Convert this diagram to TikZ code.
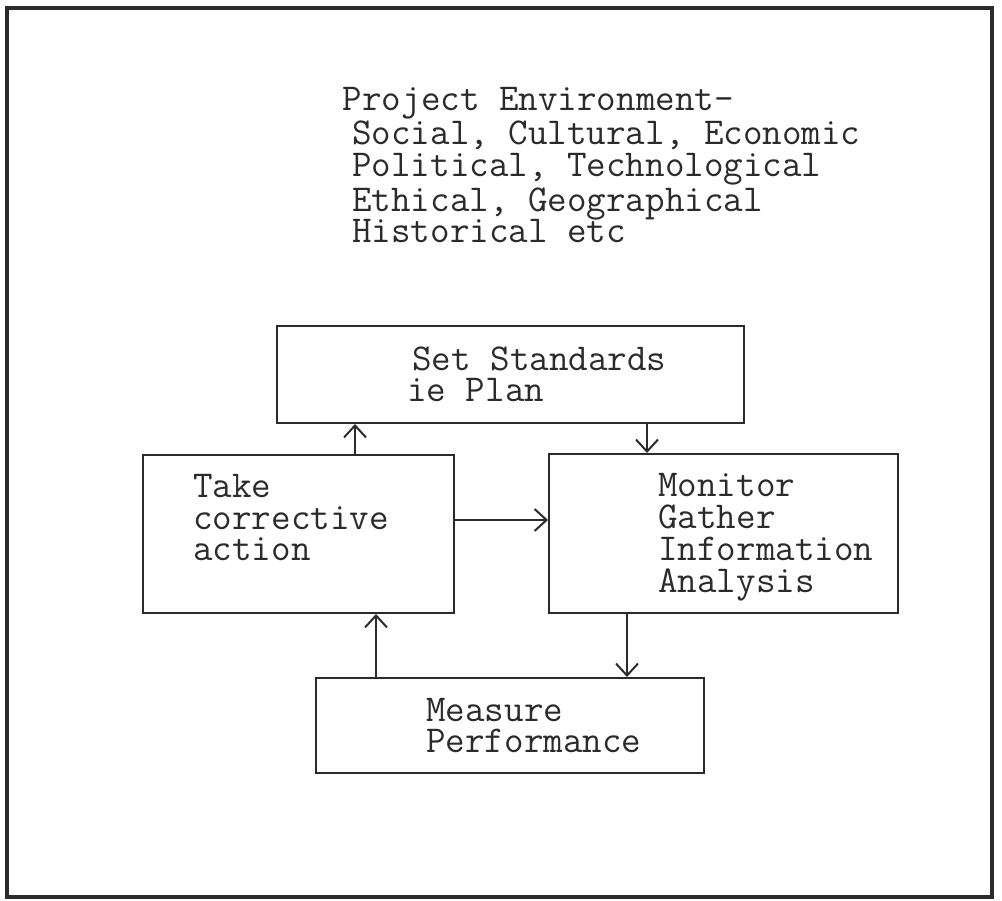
\documentclass[tikz,border=0pt]{standalone}
\usepackage{fontspec}
\usetikzlibrary{arrows.meta}
\definecolor{ink}{HTML}{2B2B2B}
\begin{document}
\begin{tikzpicture}[x=0.02cm, y=-0.02cm,
  box/.style={draw=ink, line width=0.04cm, rectangle, inner sep=0pt},
  txt/.style={text=ink, font=\fontsize{21.6}{18.2}\selectfont\ttfamily\addfontfeatures{FakeBold=1.1},
              align=left, inner sep=0pt, anchor=base west},
  arr/.style={draw=ink, line width=0.04cm,
              -{Straight Barb[length=0.24cm, width=0.44cm, line width=0.04cm]}},
  frame/.style={draw=ink, line width=0.09cm}]
  \useasboundingbox (0,0) rectangle (1002,901);
  % outer frame
  \draw[frame] (7,8) rectangle (992,897);

  % heading (node placed at the baseline of its last line)
  \node[txt] (env) at (352,243) {\hspace*{-0.19cm}Project Environment-\\
    Social, Cultural, Economic\\
    Political, Technological\\
    Ethical, Geographical\\
    Historical etc};

  % boxes
  \node[box, minimum width=9.34cm, minimum height=1.94cm] (sset) at (510.5,374.5) {};
  \node[box, minimum width=6.22cm, minimum height=3.16cm] (take) at (298.5,534) {};
  \node[box, minimum width=6.98cm, minimum height=3.18cm] (mon) at (723.5,533.5) {};
  \node[box, minimum width=7.76cm, minimum height=1.90cm] (meas) at (510,725.5) {};

  % box texts
  \node[txt] (sset-t) at (412,402) {Set Standards\\\hspace*{-0.1cm}ie Plan};
  \node[txt] (take-t) at (193,561) {Take\\corrective\\action};
  \node[txt] (mon-t) at (658,592.5) {Monitor\\Gather\\Information\\Analysis};
  \node[txt] (meas-t) at (426,753) {Measure\\Performance};

  % connector positions
  \coordinate (xa) at (355,0);
  \coordinate (xb) at (647,0);
  \coordinate (yc) at (0,520);
  \coordinate (xd) at (627,0);
  \coordinate (xe) at (376,0);

  % connectors
  \draw[arr] (take.north -| xa) -- (sset.south -| xa);
  \draw[arr] (sset.south -| xb) -- (mon.north -| xb);
  \draw[arr] (take.east |- yc) -- (mon.west |- yc);
  \draw[arr] (mon.south -| xd) -- (meas.north -| xd);
  \draw[arr] (meas.north -| xe) -- (take.south -| xe);
\end{tikzpicture}
\end{document}
